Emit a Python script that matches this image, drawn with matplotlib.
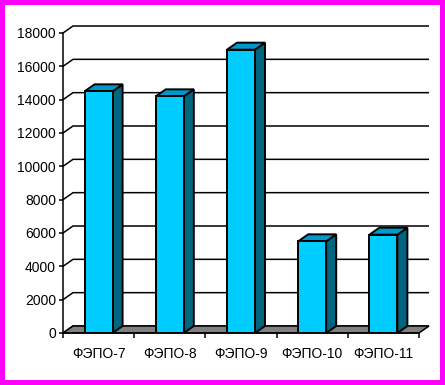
import matplotlib
matplotlib.use("Agg")
import matplotlib.pyplot as plt
from matplotlib.patches import Rectangle, Polygon

categories = ["ФЭПО-7", "ФЭПО-8", "ФЭПО-9", "ФЭПО-10", "ФЭПО-11"]
values = [14500, 14200, 17000, 5500, 5900]
yticks = list(range(0, 18001, 2000))

plt.rcParams['font.family'] = ['Liberation Sans', 'DejaVu Sans']

W, H = 445, 385
fig = plt.figure(figsize=(W / 100, H / 100), dpi=100)
fig.patch.set_facecolor('#FF00FF')
fig.patches.append(Rectangle((5 / W, 5 / H), (W - 10) / W, (H - 10) / H,
                             transform=fig.transFigure, facecolor='white',
                             edgecolor='none', zorder=-10))

ax = fig.add_axes([63 / W, (H - 333) / H, 356 / W, 300 / H])
ax.set_facecolor('none')
n = len(categories)
ax.set_xlim(-0.5, n - 0.5)
ax.set_ylim(0, 18000)

# depth offsets in data units (10 px right, 7 px up)
px_x = 356 / n
px_y = 300 / 18000
dx = 10 / px_x
dy = 7 / px_y

# back wall gridlines with diagonal connectors
for v in yticks:
    ax.plot([-0.5, -0.5 + dx, n - 0.5 + dx], [v, v + dy, v + dy],
            color='black', lw=1.1, clip_on=False, zorder=1,
            solid_capstyle='butt')

# floor
floor = Polygon([(-0.5, 0), (n - 0.5, 0), (n - 0.5 + dx, dy), (-0.5 + dx, dy)],
                closed=True, facecolor='#808080', edgecolor='black', lw=1.1,
                clip_on=False, zorder=2)
ax.add_patch(floor)

bw = 28 / px_x
front_c, top_c, side_c = '#00CCFF', '#0099CC', '#006680'
for i, v in enumerate(values):
    l, r = i - bw / 2, i + bw / 2
    side = Polygon([(r, 0), (r + dx, dy), (r + dx, v + dy), (r, v)], closed=True,
                   facecolor=side_c, edgecolor='black', lw=1.4, clip_on=False, zorder=3)
    top = Polygon([(l, v), (r, v), (r + dx, v + dy), (l + dx, v + dy)], closed=True,
                  facecolor=top_c, edgecolor='black', lw=1.4, clip_on=False, zorder=3)
    ax.add_patch(side)
    ax.add_patch(top)
    ax.bar(i, v, width=bw, color=front_c, edgecolor='black', lw=1.4, zorder=4)

for s in ['top', 'right']:
    ax.spines[s].set_visible(False)
ax.spines['left'].set_linewidth(1.1)
ax.spines['bottom'].set_linewidth(1.1)
ax.spines['left'].set_zorder(5)
ax.spines['bottom'].set_zorder(5)

ax.set_yticks(yticks)
ax.set_yticklabels([str(v) for v in yticks], fontsize=10)
ax.tick_params(axis='y', direction='out', length=3, width=1.1, pad=2, colors='black')

ax.set_xticks(range(n))
ax.set_xticklabels(categories, fontsize=10)
ax.tick_params(axis='x', which='major', length=0, pad=10)
ax.set_xticks([i - 0.5 for i in range(n + 1)], minor=True)
ax.tick_params(axis='x', which='minor', direction='out', length=3.6, width=1.1)

fig.savefig('out.png', dpi=100)
